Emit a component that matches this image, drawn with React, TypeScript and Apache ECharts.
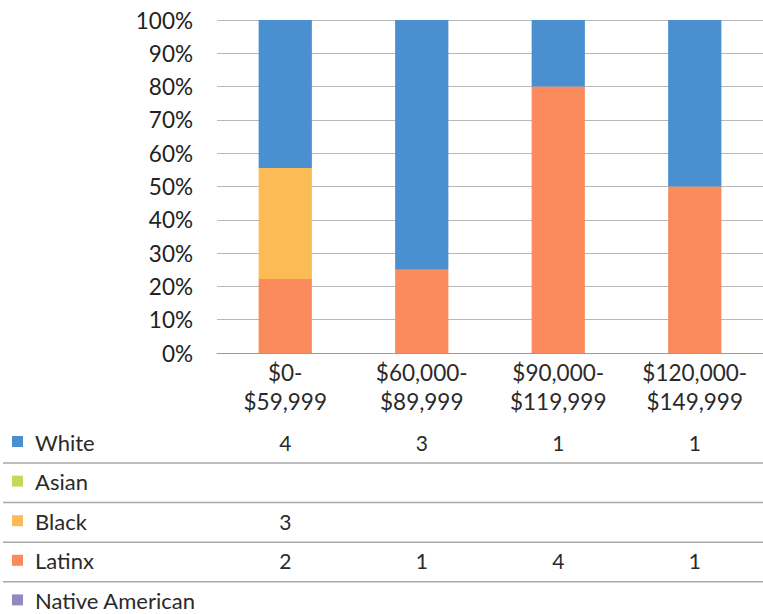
import React, { useEffect, useRef } from "react";
import * as echarts from "echarts";

const categories = ["$0-\n$59,999", "$60,000-\n$89,999", "$90,000-\n$119,999", "$120,000-\n$149,999"];
const seriesNames = ["White", "Asian", "Black", "Latinx", "Native American"];
const white: (number | null)[] = [4, 3, 1, 1];
const asian: (number | null)[] = [null, null, null, null];
const black: (number | null)[] = [3, null, null, null];
const latinx: (number | null)[] = [2, 1, 4, 1];
const nativeAmerican: (number | null)[] = [null, null, null, null];
const colors = ["#4a90d0", "#c6d85a", "#fbbb55", "#fb8a5c", "#8f8ac0"];
const yTicks = [0, 10, 20, 30, 40, 50, 60, 70, 80, 90, 100];

const FONT = "Lato, 'Open Sans', sans-serif";

export default function App() {
  const ref = useRef<HTMLDivElement>(null);
  useEffect(() => {
    if (!ref.current) return;
    const chart = echarts.init(ref.current, null, { renderer: "svg" });
    const rows = [white, asian, black, latinx, nativeAmerican];
    const totals = categories.map((_, i) => rows.reduce((s, r) => s + (r[i] || 0), 0));
    const pct = (r: (number | null)[]) => r.map((v, i) => (v == null ? null : (v / totals[i]) * 100));
    // stack order bottom->top: Native American, Latinx, Black, Asian, White
    const order = [4, 3, 2, 1, 0];
    chart.setOption({
      animation: false,
      grid: { left: 217, top: 20, width: 546, height: 333, containLabel: false },
      xAxis: {
        type: "category",
        data: categories,
        axisLine: { lineStyle: { color: "#9a9a9a", width: 1 } },
        axisTick: { show: false },
        axisLabel: { color: "#2a2a2a", fontFamily: FONT, fontSize: 22.5, lineHeight: 29, margin: 5 },
      },
      yAxis: {
        type: "value",
        min: 0,
        max: 100,
        interval: 10,
        axisLine: { show: false },
        axisTick: { show: false },
        splitLine: { lineStyle: { color: "#b8b8b8", width: 1 } },
        axisLabel: {
          color: "#222",
          fontFamily: FONT,
          fontSize: 22.5,
          margin: 24,
          formatter: (v: number) => (yTicks.includes(v) ? v + "%" : ""),
        },
      },
      series: order.map((idx) => ({
        name: seriesNames[idx],
        type: "bar",
        stack: "total",
        barWidth: "39%",
        data: pct(rows[idx]),
        itemStyle: { color: colors[idx] },
      })),
    });

    const graphics: any[] = [];
    const rowY0 = 442;
    const rowH = 39.6;
    seriesNames.forEach((name, r) => {
      const cy = rowY0 + r * rowH;
      graphics.push({
        type: "rect",
        shape: { x: 12, y: cy - 6, width: 11, height: 11 },
        style: { fill: colors[r] },
      });
      graphics.push({
        type: "text",
        x: 35,
        y: cy,
        style: { text: name, fontFamily: FONT, fontSize: 22, fill: "#2a2a2a", verticalAlign: "middle", align: "left" },
      });
      rows[r].forEach((v, i) => {
        if (v == null) return;
        const px = chart.convertToPixel({ xAxisIndex: 0 }, i) as unknown as number;
        graphics.push({
          type: "text",
          x: px,
          y: cy,
          style: { text: String(v), fontFamily: FONT, fontSize: 21, fill: "#2a2a2a", verticalAlign: "middle", align: "center" },
        });
      });
      if (r < seriesNames.length - 1) {
        graphics.push({
          type: "line",
          shape: { x1: 3, y1: cy + 21, x2: 763, y2: cy + 21 },
          style: { stroke: "#a8a8a8", lineWidth: 1.5 },
        });
      }
    });
    chart.setOption({ graphic: graphics });
    return () => chart.dispose();
  }, []);
  return (
    <div
      ref={ref}
      style={{ position: "absolute", left: 0, top: 0, width: 763, height: 614, background: "#fff" }}
    />
  );
}
